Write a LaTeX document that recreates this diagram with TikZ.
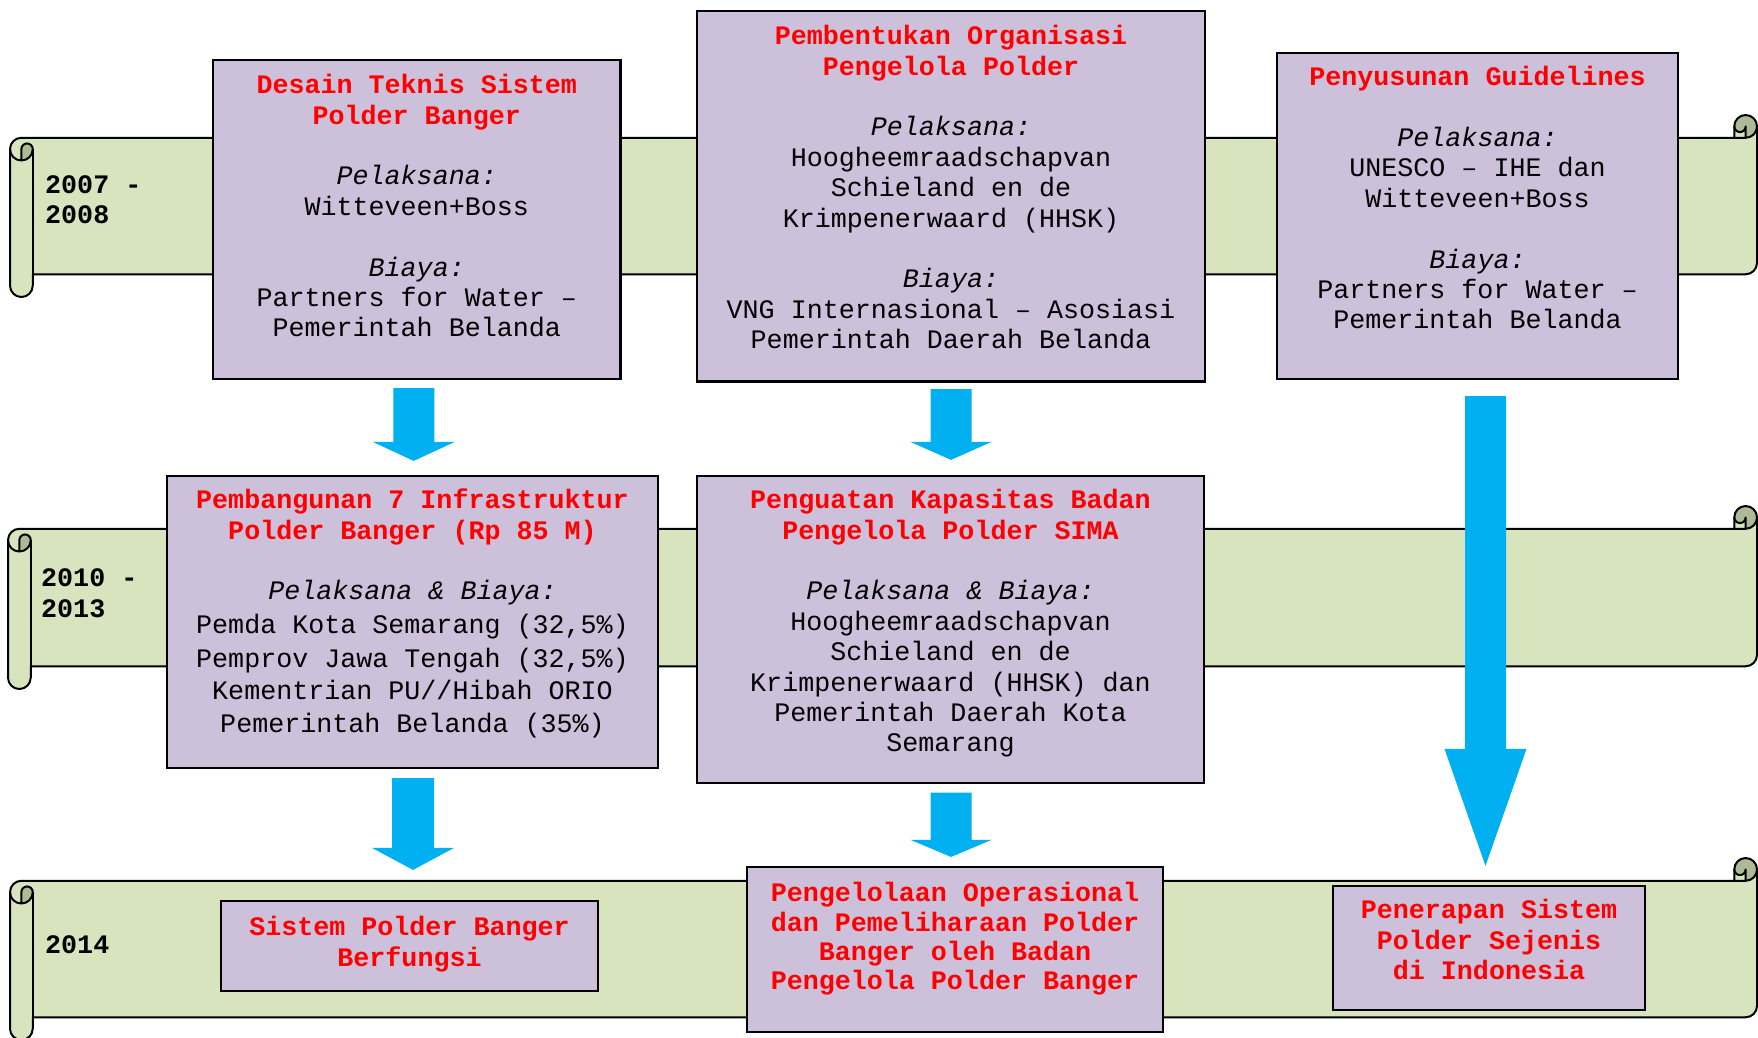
\documentclass[tikz,border=0pt]{standalone}
\usepackage{fontspec}
\setmonofont{Liberation Mono}
\usetikzlibrary{calc}

\definecolor{bandfill}{HTML}{D7E4BD}
\definecolor{bandcurl}{HTML}{ADBA96}
\definecolor{boxfill}{HTML}{CCC0DA}
\definecolor{flowblue}{HTML}{00B0F0}
\definecolor{titlered}{HTML}{FF0000}

% strut that fixes the height of the first text line
\newcommand\firstline{\rule{0pt}{21pt}}
\newcommand\boxtitle[1]{\textbf{\color{titlered}#1}}
\newcommand\boxlabel[1]{\textit{#1}}

% horizontal scroll band: #1 left, #2 top, #3 right, #4 bottom
\newcommand\scrollband[4]{%
  \pgfmathsetmacro\bandC{22.75}%
  \pgfmathsetmacro\bandCh{\bandC/2}%
  \pgfmathsetmacro\bandCq{\bandC/4}%
  \pgfmathsetmacro\bandL{#1}%
  \pgfmathsetmacro\bandR{#3}%
  \pgfmathsetmacro\bandLc{#1+\bandC}%
  \pgfmathsetmacro\bandLh{#1+\bandCh}%
  \pgfmathsetmacro\bandXthree{#3-\bandC}%
  \pgfmathsetmacro\bandXfour{#3-\bandCh}%
  \pgfmathsetmacro\bandTh{#2+\bandCh}%
  \pgfmathsetmacro\bandTc{#2+\bandC}%
  \pgfmathsetmacro\bandYthree{#2+\bandC+\bandCh}%
  \pgfmathsetmacro\bandYfour{#2+2*\bandC}%
  \pgfmathsetmacro\bandYfive{#4-\bandC-\bandCh}%
  \pgfmathsetmacro\bandYsix{#4-\bandC}%
  \pgfmathsetmacro\bandYseven{#4-\bandCh}%
  % light body
  \fill[bandfill] (\bandR,\bandTh) -- (\bandR,\bandYfive)
    arc[start angle=0,delta angle=90,radius=\bandCh]
    -- (\bandLc,\bandYsix) -- (\bandLc,\bandYseven)
    arc[start angle=0,delta angle=180,radius=\bandCh]
    -- (\bandL,\bandYthree)
    arc[start angle=180,delta angle=90,radius=\bandCh]
    -- (\bandXthree,\bandTc) -- (\bandXthree,\bandTh) -- cycle;
  % shaded curls
  \fill[bandcurl] (\bandXfour,\bandTc)
    arc[start angle=90,delta angle=-270,radius=\bandCh]
    arc[start angle=180,delta angle=-180,radius=\bandCq] -- cycle;
  \fill[bandcurl] (\bandLh,\bandYfour)
    arc[start angle=90,delta angle=-90,radius=\bandCh]
    arc[start angle=0,delta angle=-180,radius=\bandCq] -- cycle;
  % outlines
  \draw[bandline] (\bandL,\bandYthree)
    arc[start angle=180,delta angle=90,radius=\bandCh]
    -- (\bandXthree,\bandTc) -- (\bandXthree,\bandTh)
    arc[start angle=180,delta angle=180,radius=\bandCh]
    -- (\bandR,\bandYfive)
    arc[start angle=0,delta angle=90,radius=\bandCh]
    -- (\bandLc,\bandYsix) -- (\bandLc,\bandYseven)
    arc[start angle=0,delta angle=180,radius=\bandCh] -- cycle;
  \draw[bandline] (\bandXthree,\bandTc) -- (\bandXfour,\bandTc)
    arc[start angle=90,delta angle=-90,radius=\bandCh];
  \draw[bandline] (\bandXfour,\bandTc) -- (\bandXfour,\bandTh)
    arc[start angle=0,delta angle=180,radius=\bandCq];
  \draw[bandline] (\bandLh,\bandYfour) -- (\bandLh,\bandYthree)
    arc[start angle=180,delta angle=180,radius=\bandCq]
    arc[start angle=0,delta angle=180,radius=\bandCh];
  \draw[bandline] (\bandLc,\bandYthree) -- (\bandLc,\bandYsix);
}

% block arrow: #1 start, #2 tip, #3 half shaft width, #4 half head width, #5 head length
\newcommand\blockarrow[5]{%
  \fill[flowblue] ($(#1)+(-#3,0)$) -- ($(#1)+(#3,0)$) -- ($(#2)+(#3,-#5)$)
    -- ($(#2)+(#4,-#5)$) -- (#2) -- ($(#2)+(-#4,-#5)$)
    -- ($(#2)+(-#3,-#5)$) -- cycle;
}

\tikzset{
  bandline/.style={draw=black, line width=2pt, line join=round},
  box/.style={draw=black, line width=2.2pt, fill=boxfill, inner sep=0pt},
  body/.style={font=\ttfamily\fontsize{26.7}{30.4}\selectfont, align=center,
    inner sep=0pt, anchor=north, text=black},
  yeartext/.style={font=\ttfamily\bfseries\fontsize{26.7}{30.4}\selectfont,
    align=left, inner sep=0pt, anchor=north west, text=black},
}

\begin{document}
\begin{tikzpicture}[x=1pt, y=-1pt]
\useasboundingbox (0,0) rectangle (1758,1037);

% timeline bands
\scrollband{10}{115}{1757}{297}
\scrollband{8}{506}{1757}{689}
\scrollband{10}{858}{1757}{1040}

% year labels
\node[yeartext] (y1) at (45,172) {\firstline 2007 -\\2008};
\node[yeartext] (y2) at (41,565) {\firstline 2010 -\\[1pt]2013};
\node[yeartext] (y3) at (45,932) {\firstline 2014};

% activity boxes
\node[box, minimum width=407.5pt, minimum height=319pt] (A) at (416.75,219.5) {};
\node[box, minimum width=508pt, minimum height=370.5pt] (B) at (951,196.25) {};
\node[box, minimum width=401pt, minimum height=326.3pt] (C) at (1477.5,215.85) {};
\node[box, minimum width=491pt, minimum height=292pt] (D) at (412.5,622) {};
\node[box, minimum width=507pt, minimum height=307pt] (E) at (950.5,629.5) {};
\node[box, minimum width=377pt, minimum height=90pt] (F) at (409.5,946) {};
\node[box, minimum width=416pt, minimum height=165pt] (G) at (955,949.5) {};
\node[box, minimum width=312pt, minimum height=124pt] (H) at (1489,948) {};

% box texts
\node[body] (tA) at (416.75,72.5) {\firstline\boxtitle{Desain Teknis Sistem}\\
  \boxtitle{Polder Banger}\\[30.4pt]
  \boxlabel{Pelaksana:}\\ Witteveen+Boss\\[30.4pt]
  \boxlabel{Biaya:}\\ Partners for Water –\\ Pemerintah Belanda};

\node[body] (tB) at (951,23.5) {\firstline\boxtitle{Pembentukan Organisasi}\\
  \boxtitle{Pengelola Polder}\\[30.4pt]
  \boxlabel{Pelaksana:}\\ Hoogheemraadschapvan\\ Schieland en de\\
  Krimpenerwaard (HHSK)\\[30.4pt]
  \boxlabel{Biaya:}\\ VNG Internasional – Asosiasi\\ Pemerintah Daerah Belanda};

\node[body] (tC) at (1477.5,64.5) {\firstline\boxtitle{Penyusunan Guidelines}\\[30.4pt]
  \boxlabel{Pelaksana:}\\ UNESCO – IHE dan\\ Witteveen+Boss\\[30.4pt]
  \boxlabel{Biaya:}\\ Partners for Water –\\ Pemerintah Belanda};

\node[body] (tD) at (412.5,487.5) {\firstline\boxtitle{Pembangunan 7 Infrastruktur}\\
  \boxtitle{Polder Banger (Rp 85 M)}\\[30.4pt]
  \boxlabel{Pelaksana \& Biaya:}\\[3.5pt]
  Pemda Kota Semarang (32,5\%)\\[3.5pt]
  Pemprov Jawa Tengah (32,5\%)\\[1pt]
  Kementrian PU//Hibah ORIO\\[3pt]
  Pemerintah Belanda (35\%)};

\node[body] (tE) at (950.5,487.5) {\firstline\boxtitle{Penguatan Kapasitas Badan}\\
  \boxtitle{Pengelola Polder SIMA}\\[30.4pt]
  \boxlabel{Pelaksana \& Biaya:}\\ Hoogheemraadschapvan\\ Schieland en de\\
  Krimpenerwaard (HHSK) dan\\ Pemerintah Daerah Kota\\ Semarang};

\node[body] (tF) at (409.5,914.5) {\firstline\boxtitle{Sistem Polder Banger}\\
  \boxtitle{Berfungsi}};

\node[body] (tG) at (955,880.5) {\firstline\boxtitle{Pengelolaan Operasional}\\[-1pt]
  \boxtitle{dan Pemeliharaan Polder}\\[-1pt]
  \boxtitle{Banger oleh Badan}\\[-1pt]
  \boxtitle{Pengelola Polder Banger}};

\node[body] (tH) at (1489,897.5) {\firstline\boxtitle{Penerapan Sistem}\\
  \boxtitle{Polder Sejenis}\\ \boxtitle{di Indonesia}};

% flow arrows between the boxes
\coordinate (a1s) at ($(A.south)+(-3,8)$);
\coordinate (a1e) at ($(A.south |- D.north)+(-3,-14)$);
\coordinate (a2s) at ($(B.south)+(0,6.5)$);
\coordinate (a2e) at ($(B.south |- E.north)+(0,-15)$);
\coordinate (a3s) at ($(D.south)+(0.5,9)$);
\coordinate (a3e) at ($(D.south |- F.north)+(0.5,-30)$);
\coordinate (a4s) at ($(E.south)+(0.5,8.5)$);
\coordinate (a4e) at ($(E.south |- G.north)+(0.5,-9)$);
\coordinate (a5s) at ($(C.south)+(8,16)$);
\coordinate (a5e) at ($(C.south |- H.north)+(8,-19)$);

\blockarrow{a1s}{a1e}{20.5}{41}{19}
\blockarrow{a2s}{a2e}{20.5}{40.5}{18}
\blockarrow{a3s}{a3e}{21}{41}{22}
\blockarrow{a4s}{a4e}{20.5}{40.5}{17}
\blockarrow{a5s}{a5e}{20.5}{41}{117}
\end{tikzpicture}
\end{document}
